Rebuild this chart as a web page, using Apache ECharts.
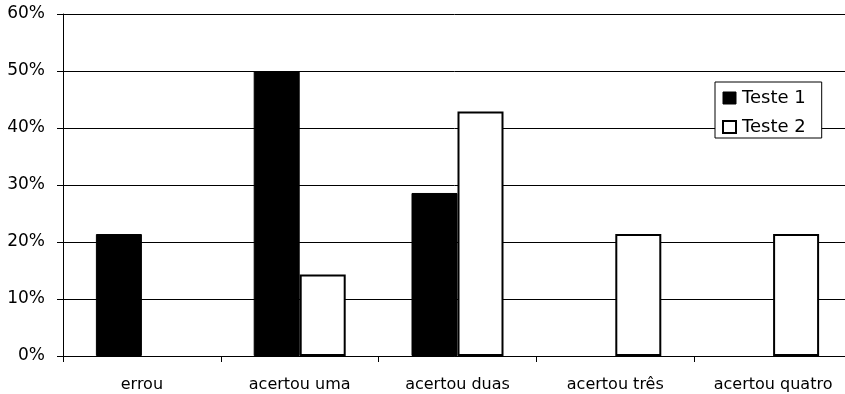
<!DOCTYPE html>
<html>
<head>
<meta charset="utf-8">
<script src="https://cdn.jsdelivr.net/npm/echarts@6/dist/echarts.min.js"></script>
<style>
html,body{margin:0;padding:0;background:#fff;}
#chart{width:845px;height:394px;}
</style>
</head>
<body>
<div id="chart"></div>
<script>
const categories = ['errou', 'acertou uma', 'acertou duas', 'acertou três', 'acertou quatro'];
const teste1 = [21.4, 50.0, 28.6, 0, 0];
const teste2 = [0, 14.3, 42.9, 21.4, 21.4];
const yTicks = [0, 10, 20, 30, 40, 50, 60];
const seriesNames = ['Teste 1', 'Teste 2'];

const hideZero = arr => arr.map(v => (v === 0 ? null : v));

const chart = echarts.init(document.getElementById('chart'), null, {renderer: 'canvas'});
const font = 'DejaVu Sans';
chart.setOption({
  animation: false,
  backgroundColor: '#fff',
  grid: {left: 63, top: 14, width: 789, height: 342, containLabel: false, outerBoundsMode: 'none'},
  legend: {
    orient: 'vertical',
    left: 715, top: 82,
    padding: [7, 16, 2, 7],
    itemGap: 11,
    itemWidth: 13, itemHeight: 12,
    borderColor: '#000', borderWidth: 1,
    backgroundColor: '#fff',
    textStyle: {fontFamily: font, fontSize: 18, color: '#000', padding: [0, 0, 0, 1]},
    data: [
      {name: seriesNames[0], icon: 'rect', itemStyle: {color: '#000', borderColor: '#000', borderWidth: 1}},
      {name: seriesNames[1], icon: 'rect', itemStyle: {color: '#fff', borderColor: '#000', borderWidth: 2}}
    ]
  },
  xAxis: {
    type: 'category',
    data: categories,
    axisLine: {lineStyle: {color: '#000', width: 1}},
    axisTick: {show: true, alignWithLabel: false, length: 6, lineStyle: {color: '#000'}},
    axisLabel: {fontFamily: font, fontSize: 16, color: '#000', margin: 21, interval: 0}
  },
  yAxis: {
    type: 'value',
    min: yTicks[0], max: yTicks[yTicks.length - 1], interval: 10,
    axisLine: {show: true, lineStyle: {color: '#000', width: 1}},
    axisTick: {show: true, length: 6, lineStyle: {color: '#000'}},
    axisLabel: {fontFamily: font, fontSize: 17, color: '#000', margin: 18, formatter: v => v + '%'},
    splitLine: {show: true, lineStyle: {color: '#000', width: 1}}
  },
  series: [
    {name: seriesNames[0], type: 'bar', data: hideZero(teste1), barWidth: 46, barGap: '0%',
     itemStyle: {color: '#000', borderColor: '#000', borderWidth: 1}},
    {name: seriesNames[1], type: 'bar', data: hideZero(teste2), barWidth: 46, barGap: '0%',
     itemStyle: {color: '#fff', borderColor: '#000', borderWidth: 2}}
  ]
});
</script>
</body>
</html>
